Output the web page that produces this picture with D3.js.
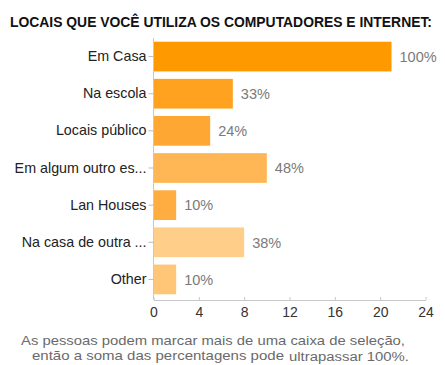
<!DOCTYPE html>
<html>
<head>
<meta charset="utf-8">
<script src="https://cdn.jsdelivr.net/npm/d3@7"></script>
<style>
  html, body { margin: 0; padding: 0; background: #fff; }
  svg { display: block; font-family: "Liberation Sans", Arial, sans-serif; }
</style>
</head>
<body>
<svg id="chart" width="445" height="365"></svg>
<script>
// Survey: where respondents use computers and the internet (multiple choice)
const categories = [
  "Em Casa",
  "Na escola",
  "Locais público",
  "Em algum outro es...",
  "Lan Houses",
  "Na casa de outra ...",
  "Other"
];
const counts = [21, 7, 5, 10, 2, 8, 2];
const barColors = ["#ff9900", "#ffa21f", "#ffa733", "#ffb654", "#ffad40", "#ffcf8a", "#ffc677"];
const xTicks = [0, 4, 8, 12, 16, 20, 24];
const respondents = 21;

const titleText = "LOCAIS QUE VOCÊ UTILIZA OS COMPUTADORES E INTERNET:";
const noteLine1 = "As pessoas podem marcar mais de uma caixa de seleção,";
const noteLine2a = "então a soma das percentagens pode";
const noteLine2b = "ultrapassar 100%.";

const svg = d3.select("#chart");

const x = d3.scaleLinear().domain([0, 24]).range([153.5, 425.5]);
const y = d3.scaleBand().domain(categories).range([38, 298])
  .paddingInner(0.2).paddingOuter(0.1);

// Title
svg.append("text")
  .attr("x", 10).attr("y", 27)
  .attr("font-size", 14).attr("font-weight", "bold")
  .attr("fill", "#111")
  .attr("textLength", 422).attr("lengthAdjust", "spacingAndGlyphs")
  .text(titleText);

// Bars
const rows = categories.map((c, i) => ({ cat: c, v: counts[i], color: barColors[i] }));

svg.append("g").selectAll("rect")
  .data(rows)
  .join("rect")
  .attr("x", x(0))
  .attr("y", d => y(d.cat))
  .attr("width", d => x(d.v) - x(0))
  .attr("height", y.bandwidth())
  .attr("fill", d => d.color);

// Percentage labels
svg.append("g").selectAll("text")
  .data(rows)
  .join("text")
  .attr("x", d => x(d.v) + 8)
  .attr("y", d => y(d.cat) + y.bandwidth() / 2)
  .attr("dy", "0.36em")
  .attr("font-size", 14.5)
  .attr("fill", "#7a7a7a")
  .text(d => Math.round(d.v / respondents * 100) + "%");

// Horizontal axis
const xAxis = svg.append("g")
  .attr("transform", "translate(0,300)")
  .call(d3.axisBottom(x).tickValues(xTicks).tickSizeInner(-3).tickSizeOuter(0).tickPadding(7));
xAxis.select(".domain").attr("stroke", "#c8c8c8");
xAxis.selectAll(".tick line").attr("stroke", "#c8c8c8");
xAxis.selectAll(".tick text")
  .attr("font-size", 14).attr("fill", "#333")
  .attr("font-family", "Liberation Sans, Arial, sans-serif");

// Vertical category axis
const yAxis = svg.append("g")
  .attr("transform", "translate(153.5,0)")
  .call(d3.axisLeft(y).tickSize(5).tickSizeOuter(0).tickPadding(2));
yAxis.select(".domain").attr("stroke", "#c8c8c8").attr("d", "M0,38V300");
yAxis.selectAll(".tick text")
  .attr("font-size", 14.3).attr("fill", "#222")
  .attr("font-family", "Liberation Sans, Arial, sans-serif");
yAxis.selectAll(".tick line").attr("stroke", "#bbb");

// Footnote: two centred lines, the second ending in slightly smaller type
svg.append("text")
  .attr("x", 21).attr("y", 344.5)
  .attr("font-size", 13.3).attr("fill", "#6a6a6a")
  .attr("textLength", 384).attr("lengthAdjust", "spacingAndGlyphs")
  .text(noteLine1);
svg.append("text")
  .attr("x", 32).attr("y", 360)
  .attr("font-size", 13.3).attr("fill", "#6a6a6a")
  .attr("textLength", 252).attr("lengthAdjust", "spacingAndGlyphs")
  .text(noteLine2a);
svg.append("text")
  .attr("x", 289).attr("y", 360.5)
  .attr("font-size", 12.5).attr("fill", "#6a6a6a")
  .attr("textLength", 120).attr("lengthAdjust", "spacingAndGlyphs")
  .text(noteLine2b);
</script>
</body>
</html>
